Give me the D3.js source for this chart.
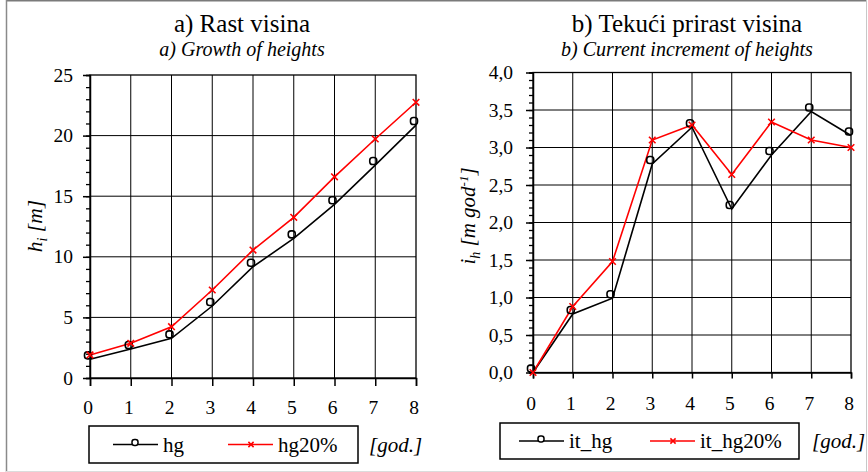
<!DOCTYPE html>
<html><head><meta charset="utf-8">
<script src="https://cdn.jsdelivr.net/npm/d3@7"></script>
<style>
html,body{margin:0;padding:0;background:#fff;}
svg{display:block;}
</style></head>
<body>
<svg id="c" width="868" height="472" font-family="Liberation Serif"></svg>
<script>
// ---- data ----
const years = [0, 1, 2, 3, 4, 5, 6, 7, 8];
const hg      = [1.54, 2.39, 3.27, 5.94, 9.18, 11.52, 14.33, 17.57, 20.87];
const hg20    = [1.9, 2.86, 4.23, 7.26, 10.56, 13.26, 16.6, 19.72, 22.75];
const it_hg   = [0.0, 0.78, 0.99, 2.78, 3.27, 2.18, 2.9, 3.48, 3.16];
const it_hg20 = [0.0, 0.88, 1.48, 3.10, 3.30, 2.64, 3.34, 3.10, 3.00];
const leftTicks  = [0, 5, 10, 15, 20, 25];
const rightTicks = [0, 0.5, 1, 1.5, 2, 2.5, 3, 3.5, 4];
const xTickLabels = ["0","1","2","3","4","5","6","7","8"];

const svg = d3.select("#c");

// outer frame
svg.append("line").attr("x1",6).attr("x2",867).attr("y1",0.75).attr("y2",0.75).attr("stroke","#7a7a7a").attr("stroke-width",1.5);
svg.append("line").attr("x1",6.5).attr("x2",6.5).attr("y1",0).attr("y2",472).attr("stroke","#8a8a8a").attr("stroke-width",1.5);
svg.append("line").attr("x1",6).attr("x2",868).attr("y1",471.5).attr("y2",471.5).attr("stroke","#dcdcdc").attr("stroke-width",1);
svg.append("line").attr("x1",866.5).attr("x2",866.5).attr("y1",0).attr("y2",472).attr("stroke","#c8c8c8").attr("stroke-width",1);

function txt(g, x, y, str, o) {
  o = o || {};
  const t = g.append("text")
    .attr("x", o.rot ? null : x).attr("y", o.rot ? null : y)
    .attr("transform", o.rot ? `translate(${x},${y}) rotate(${o.rot})` : null)
    .attr("text-anchor", o.anchor || "start")
    .attr("font-family", "Liberation Serif")
    .style("font-family", "'Liberation Serif'")
    .attr("fill", "#000")
    .attr("font-size", (o.size || 17));
  if (o.italic) t.attr("font-style", "italic");
  if (str !== null) t.text(str);
  return t;
}

function panel(cfg) {
  const g = svg.append("g");
  const x = d3.scaleLinear().domain([0, 8]).range([cfg.x0, cfg.x1]);
  const y = d3.scaleLinear().domain([0, cfg.ymax]).range([cfg.y0, cfg.y1]);

  // gridlines
  g.append("g").selectAll("line").data(years.slice(1, 8)).join("line")
    .attr("x1", d => x(d)).attr("x2", d => x(d)).attr("y1", cfg.y0).attr("y2", cfg.y1)
    .attr("stroke", "#000").attr("stroke-width", 1);
  g.append("g").selectAll("line").data(cfg.ticks.slice(1, -1)).join("line")
    .attr("x1", cfg.x0).attr("x2", cfg.x1).attr("y1", d => y(d)).attr("y2", d => y(d))
    .attr("stroke", "#000").attr("stroke-width", 1);
  // plot box
  g.append("rect").attr("x", cfg.x0).attr("y", cfg.y1).attr("width", cfg.x1 - cfg.x0).attr("height", cfg.y0 - cfg.y1)
    .attr("fill", "none").attr("stroke", "#000").attr("stroke-width", 1.3);

  // y axis minor and major ticks
  const minor = d3.range(0, cfg.ymax + 1e-9, cfg.minorStep);
  g.append("g").attr("transform", `translate(${cfg.x0},0)`)
    .call(d3.axisLeft(y).tickValues(minor).tickSize(4).tickFormat(""))
    .call(a => a.select(".domain").attr("stroke-width", 1.5))
    .call(a => a.selectAll(".tick line").attr("stroke-width", 1.3));
  g.append("g").attr("transform", `translate(${cfg.x0},0)`)
    .call(d3.axisLeft(y).tickValues(cfg.ticks).tickSize(7).tickFormat(""))
    .call(a => a.select(".domain").remove())
    .call(a => a.selectAll(".tick line").attr("stroke-width", 1.5));
  // x axis ticks
  g.append("g").attr("transform", `translate(0,${cfg.y0})`)
    .call(d3.axisBottom(x).tickValues(years).tickSize(cfg.xTick).tickFormat(""))
    .call(a => a.select(".domain").attr("stroke-width", 1.5))
    .call(a => a.selectAll(".tick line").attr("stroke-width", 1.5));

  // tick labels
  cfg.ticks.forEach(v => txt(g, cfg.x0 - cfg.yLabOff, y(v) + 6.5, cfg.fmt(v), {anchor: "end", size: 19.5}));
  years.forEach((v, i) => txt(g, x(v) - 2, cfg.y0 + cfg.xLabOff, xTickLabels[i], {anchor: "middle", size: 19.5}));

  // series
  const line = d3.line().x((d, i) => x(years[i])).y(d => y(d));
  g.append("path").datum(cfg.s1).attr("d", line).attr("fill", "none").attr("stroke", "#000").attr("stroke-width", 1.6);
  g.append("path").datum(cfg.s2).attr("d", line).attr("fill", "none").attr("stroke", "#ff0000").attr("stroke-width", 1.6);
  g.append("g").selectAll("rect").data(cfg.s1).join("rect")
    .attr("x", (d, i) => x(years[i]) - 5.5).attr("y", d => y(d) - 7.5)
    .attr("width", 7).attr("height", 7).attr("rx", 2.8)
    .attr("fill", "none").attr("stroke", "#000").attr("stroke-width", 1.6);
  g.append("g").selectAll("path").data(cfg.s2).join("path")
    .attr("d", (d, i) => { const cx = x(years[i]), cy = y(d), r = 3.3;
      return `M${cx-r},${cy-r}L${cx+r},${cy+r}M${cx-r},${cy+r}L${cx+r},${cy-r}`; })
    .attr("stroke", "#ff0000").attr("stroke-width", 1.6);

  // titles
  txt(g, cfg.tx, 32, cfg.title, {anchor: "middle", size: 25});
  txt(g, cfg.tx, 56, cfg.subtitle, {anchor: "middle", size: 20, italic: true});

  // legend
  const L = cfg.leg;
  g.append("rect").attr("x", L.x).attr("y", L.y).attr("width", L.w).attr("height", L.h)
    .attr("fill", "none").attr("stroke", "#000").attr("stroke-width", 1.5);
  const ly = L.y + L.h / 2;
  g.append("line").attr("x1", L.l1).attr("x2", L.l1 + 45).attr("y1", ly).attr("y2", ly).attr("stroke", "#000").attr("stroke-width", 1.6);
  g.append("rect").attr("x", L.l1 + 19).attr("y", ly - 5).attr("width", 6).attr("height", 6).attr("rx", 2.4)
    .attr("fill", "#fff").attr("stroke", "#000").attr("stroke-width", 1.5);
  g.append("line").attr("x1", L.l2).attr("x2", L.l2 + 45).attr("y1", ly).attr("y2", ly).attr("stroke", "#ff0000").attr("stroke-width", 1.6);
  { const cx = L.l2 + 23, cy = ly, r = 2.6;
    g.append("path").attr("d", `M${cx-r},${cy-r}L${cx+r},${cy+r}M${cx-r},${cy+r}L${cx+r},${cy-r}`)
      .attr("stroke", "#ff0000").attr("stroke-width", 1.5); }
  txt(g, L.l1 + 50, ly + 7, cfg.n1, {size: 21});
  txt(g, L.l2 + 50, ly + 7, cfg.n2, {size: 21});
  txt(g, L.god, ly + 7, "[god.]", {size: 21, italic: true});

  return {g, x, y};
}

const A = panel({
  x0: 90, x1: 416, y0: 378, y1: 75, ymax: 25, ticks: leftTicks, minorStep: 1,
  fmt: d => String(d), xTick: 8, xLabOff: 36, yLabOff: 17,
  s1: hg, s2: hg20, title: "a) Rast visina", subtitle: "a) Growth of heights", tx: 242,
  leg: {x: 89, y: 426, w: 269, h: 37, l1: 113, l2: 228, god: 369},
  n1: "hg", n2: "hg20%"
});
const B = panel({
  x0: 533, x1: 851, y0: 372.5, y1: 72.5, ymax: 4, ticks: rightTicks, minorStep: 0.1,
  fmt: d => d3.format(".1f")(d).replace(".", ","), xTick: 6, xLabOff: 37.5, yLabOff: 20,
  s1: it_hg, s2: it_hg20, title: "b) Tekući prirast visina", subtitle: "b) Current increment of heights", tx: 687,
  leg: {x: 500, y: 423, w: 299, h: 36, l1: 519, l2: 650, god: 812},
  n1: "it_hg", n2: "it_hg20%"
});

// y axis labels
{
  const t = txt(A.g, 42, 226, null, {anchor: "middle", size: 21.5, italic: true, rot: -90});
  t.append("tspan").text("h");
  t.append("tspan").text("i").attr("dy", 5).attr("font-size", 14);
  t.append("tspan").text(" [m]").attr("dy", -5);
}
{
  const t = txt(B.g, 475, 216, null, {anchor: "middle", size: 21, italic: true, rot: -90});
  t.append("tspan").text("i");
  t.append("tspan").text("h").attr("dy", 5).attr("font-size", 14);
  t.append("tspan").text(" [m god").attr("dy", -5);
  t.append("tspan").text("-1").attr("dy", -7).attr("font-size", 13);
  t.append("tspan").text("]").attr("dy", 7);
}
</script>
</body></html>
